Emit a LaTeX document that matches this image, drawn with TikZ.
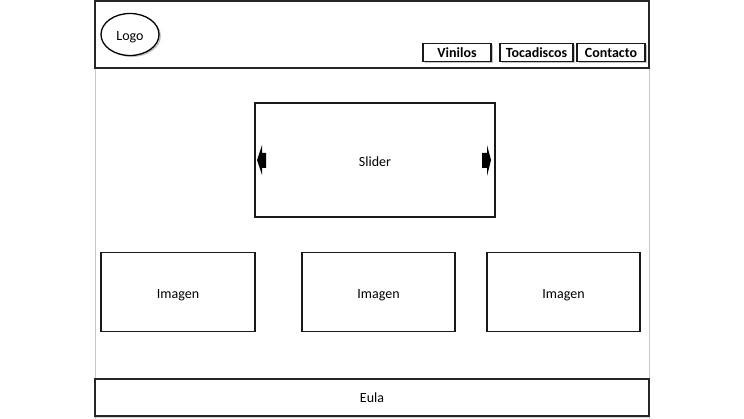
\documentclass[tikz,border=0pt]{standalone}
\usepackage{fontspec}
\setmainfont{Carlito}
\usetikzlibrary{shapes.geometric,shadows}
\begin{document}
\begin{tikzpicture}[x=1pt,y=-1pt,
  frameline/.style={draw=black!22,line width=1pt},
  lbl/.style={font=\fontsize{14}{16}\selectfont,text height=12.5pt,text depth=0pt},
  barbox/.style={draw=black!85,line width=1.8pt,fill=white,inner sep=0pt,
    minimum width=554pt,
    drop shadow={shadow xshift=0pt,shadow yshift=-1.5pt,opacity=0.35,fill=black!50}},
  boxx/.style={draw=black!90,line width=1.3pt,fill=white,inner sep=0pt,lbl},
  btn/.style={draw=black!90,line width=1.4pt,fill=white,inner sep=0pt,minimum height=18pt,
    font=\bfseries\fontsize{14}{16}\selectfont,text height=10.5pt,text depth=0pt,
    drop shadow={shadow xshift=1.5pt,shadow yshift=-1.5pt,opacity=0.45,fill=black!50}},
  logostyle/.style={ellipse,draw=black,line width=1.3pt,fill=white,minimum width=58pt,minimum height=42pt,
    inner sep=0pt,lbl,
    drop shadow={shadow xshift=2pt,shadow yshift=-1.5pt,opacity=0.45,fill=black!50}},
  arrowfill/.style={fill=black}]
\useasboundingbox[fill=white] (0,0) rectangle (744,419);
% page frame
\draw[frameline] (95,0) -- (95,419);
\draw[frameline] (649,0) -- (649,419);
% header and footer
\node[barbox,minimum height=67pt] (header) at (372,34.5) {};
\node[barbox,minimum height=37pt,lbl,text height=10pt] (footer) at (372,397.5) {Eula};
% logo
\node[logostyle] (logo) at (130,34.5) {Logo};
% menu buttons
\node[btn,minimum width=68pt] (vinilos) at (457,52.5) {Vinilos};
\node[btn,minimum width=73pt] (tocadiscos) at (536.5,52.5) {Tocadiscos};
\node[btn,minimum width=68pt] (contacto) at (611,52.5) {Contacto};
% slider
\node[boxx,minimum width=240pt,minimum height=114pt] (slider) at (375,160) {Slider};
\fill[arrowfill] (257,160) -- (262,145) -- (262,153) -- (266,153) -- (266,168) -- (262,168) -- (262,175) -- cycle;
\fill[arrowfill] (491,160) -- (487,145) -- (487,153) -- (482,153) -- (482,168) -- (487,168) -- (487,176) -- cycle;
% images
\node[boxx,minimum width=154pt,minimum height=79pt] (img1) at (178,292) {Imagen};
\node[boxx,minimum width=153pt,minimum height=79pt] (img2) at (378.5,292) {Imagen};
\node[boxx,minimum width=153pt,minimum height=79pt] (img3) at (563.5,292) {Imagen};
\end{tikzpicture}
\end{document}
